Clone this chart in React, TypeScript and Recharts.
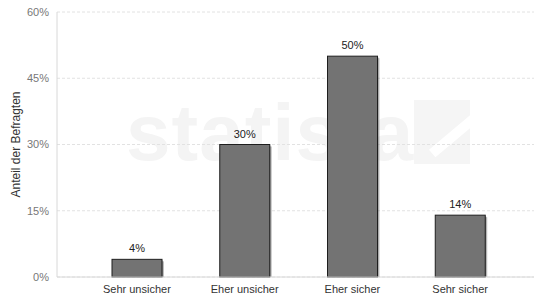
import React from 'react'
import { BarChart, Bar, XAxis, YAxis, CartesianGrid, LabelList } from 'recharts'

const categories = ['Sehr unsicher', 'Eher unsicher', 'Eher sicher', 'Sehr sicher']
const shares = [4, 30, 50, 14]
const yTicks = [0, 15, 30, 45, 60]

const data = categories.map((name, i) => ({ name, value: shares[i] }))

const ShadowBar = (props: any) => {
  const { x, y, width, height } = props
  if (!height) return null
  return (
    <g>
      <rect x={x + 2} y={y + 2} width={width} height={height - 2} fill="#000" opacity={0.25} />
      <rect x={x + 1} y={y + 1} width={width} height={height - 1} fill="#000" opacity={0.2} />
      <rect x={x} y={y} width={width} height={height} fill="#737373" stroke="#1e1e1e" strokeWidth={1} />
    </g>
  )
}

export default function App() {
  return (
    <div style={{ position: 'absolute', left: 0, top: 0, width: 534, height: 297, fontFamily: 'Arial, "Liberation Sans", sans-serif', background: '#fff' }}>
      {/* faint watermark */}
      <div style={{ position: 'absolute', left: 126, top: 93, fontSize: 80, lineHeight: 1, fontWeight: 'bold', color: '#f4f4f4', letterSpacing: 1 }}>
        statista
      </div>
      <div style={{ position: 'absolute', left: 414, top: 100, width: 56, height: 64, background: '#f5f5f5', overflow: 'hidden' }}>
        <div style={{ position: 'absolute', left: 10, top: 26, width: 70, height: 10, background: '#fff', transform: 'rotate(-40deg)' }} />
      </div>
      <div style={{ position: 'absolute', left: 0, top: 0 }}>
        <BarChart width={534} height={297} data={data} margin={{ top: 12, right: 0, bottom: 0, left: 0 }} barSize={50}>
          <CartesianGrid vertical={false} stroke="#e2e2e2" strokeDasharray="3 2" />
          <XAxis
            dataKey="name"
            height={20}
            padding={{ left: 26, right: 20 }}
            tickLine={false}
            axisLine={{ stroke: '#d8d8d8' }}
            tick={{ fontSize: 11, fill: '#333' }}
            interval={0}
          />
          <YAxis
            width={57}
            domain={[0, 60]}
            ticks={yTicks}
            tickFormatter={(v) => `${v}%`}
            tickLine={false}
            axisLine={{ stroke: '#d8d8d8' }}
            tick={{ fontSize: 11, fill: '#777' }}
            label={{ value: 'Anteil der Befragten', angle: -90, position: 'insideLeft', offset: 16, style: { fontSize: 12, fill: '#333', textAnchor: 'middle' } }}
          />
          <Bar dataKey="value" shape={ShadowBar} isAnimationActive={false}>
            <LabelList dataKey="value" position="top" offset={7} formatter={(v: any) => `${v}%`} style={{ fontSize: 11, fill: '#222' }} />
          </Bar>
        </BarChart>
      </div>
    </div>
  )
}
